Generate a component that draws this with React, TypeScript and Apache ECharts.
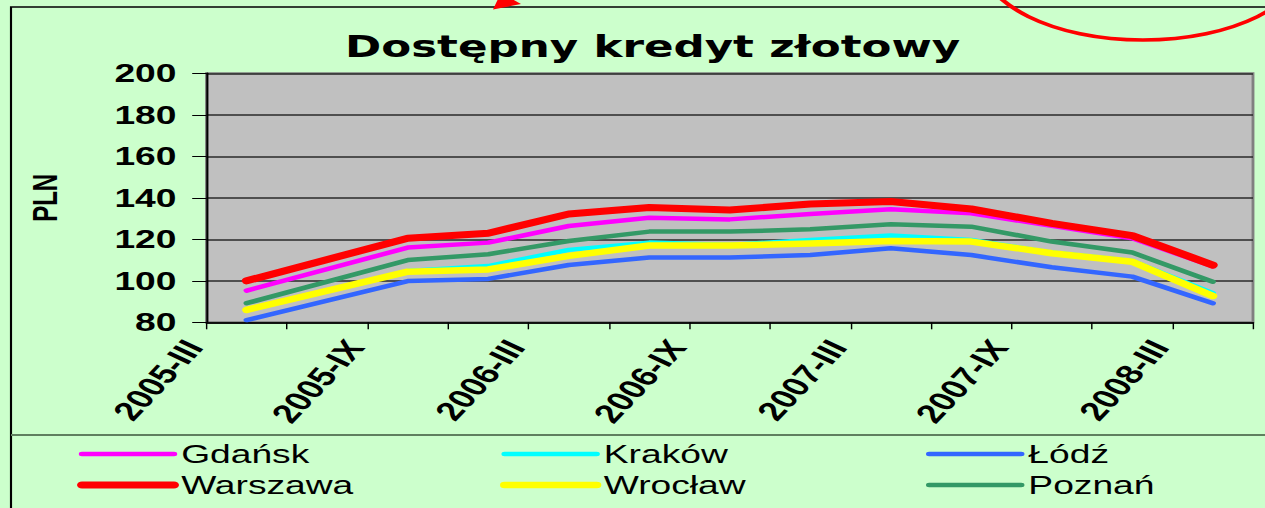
import React, { useEffect, useRef } from 'react';
import * as echarts from 'echarts';

// ---- data ----
const categories = [
  '2005-III', '2005-VI', '2005-IX', '2005-XII',
  '2006-III', '2006-VI', '2006-IX', '2006-XII',
  '2007-III', '2007-VI', '2007-IX', '2007-XII',
  '2008-III',
];
const tickLabels = [
  '2005-III', '', '2005-IX', '', '2006-III', '', '2006-IX', '',
  '2007-III', '', '2007-IX', '', '2008-III', '',
];
const seriesNames = ['Gdańsk', 'Kraków', 'Łódź', 'Warszawa', 'Wrocław', 'Poznań'];
const gdansk = [95.3, null, 116, 118.4, 126.4, 130.4, 129.6, 132.2, 134.5, 132.5, 126.5, 120.5, 107];
const krakow = [86, null, 104.7, 107.1, 114.9, 118.4, 117.3, 119.7, 121.8, 119.7, 113.6, 109.6, 94];
const lodz = [81.1, null, 99.9, 100.9, 107.6, 111.2, 111.2, 112.4, 115.7, 112.4, 106.5, 102, 89.2];
const warszawa = [100, null, 120.5, 122.9, 132.2, 135.3, 134.1, 137, 138.2, 134.6, 127.7, 121.8, 107.6];
const wroclaw = [86, null, 104.4, 105.5, 112, 117, 117, 118, 119.2, 118.9, 113.3, 109.2, 92.7];
const poznan = [89.2, null, 110, 112.8, 119.2, 123.7, 123.7, 124.8, 127.2, 126.1, 118.9, 113.6, 99.6];
const yMin = 80;
const yMax = 200;
const yInterval = 20;
const legendColumns = [
  ['Gdańsk', 'Warszawa'],
  ['Kraków', 'Wrocław'],
  ['Łódź', 'Poznań'],
];

// ---- styles ----
const S = 1.43; // horizontal stretch of the reference
const W = 1265;
const H = 508;
const WI = W / S;
const sx = (x: number) => x / S;

const seriesValues = [gdansk, krakow, lodz, warszawa, wroclaw, poznan];
const seriesColors = ['#ff00ff', '#00ffff', '#3366ff', '#ff0000', '#ffff00', '#339966'];
const seriesWidths = [4.5, 4.5, 4.5, 7, 6.5, 4.5];
const legendLefts = [77, 500, 926];

export default function App() {
  const ref = useRef<HTMLDivElement>(null);
  useEffect(() => {
    const chart = echarts.init(ref.current!, null, { renderer: 'svg', width: WI, height: H });
    const option: any = {
      animation: false,
      backgroundColor: '#ccffcc',
      textStyle: { fontFamily: 'Liberation Sans' },
      title: {
        text: 'Dostępny kredyt złotowy',
        left: sx(345),
        top: 31,
        padding: 0,
        textStyle: { fontFamily: 'DejaVu Sans', fontWeight: 'bold', fontSize: 30.5, color: '#000' },
      },
      grid: {
        left: sx(206.5),
        right: WI - sx(1253),
        top: 73.3,
        bottom: H - 322.3,
        containLabel: false,
        outerBoundsMode: 'none',
        show: true,
        backgroundColor: '#c0c0c0',
        borderColor: '#808080',
        borderWidth: 2,
      },
      xAxis: [
        {
          type: 'category',
          data: categories,
          boundaryGap: true,
          position: 'bottom',
          axisLine: { lineStyle: { color: '#000', width: 1.5 } },
          axisTick: { show: true, interval: 0, length: 7, lineStyle: { color: '#000', width: 1 } },
          axisLabel: { show: false },
          splitLine: { show: false },
        },
        {
          type: 'category',
          data: tickLabels,
          boundaryGap: false,
          position: 'bottom',
          axisLine: { show: false },
          axisTick: { show: false },
          splitLine: { show: false },
          axisLabel: {
            interval: 0,
            rotate: 56,
            margin: 7,
            padding: [0, 16, 0, 0],
            fontSize: 26.5,
            fontWeight: 'bold',
            color: '#000',
            fontFamily: 'Liberation Sans',
          },
        },
      ],
      yAxis: {
        type: 'value',
        min: yMin,
        max: yMax,
        interval: yInterval,
        name: 'PLN',
        nameLocation: 'middle',
        nameRotate: 90,
        nameGap: 101,
        nameTextStyle: { fontSize: 24, fontWeight: 'bold', color: '#000', fontFamily: 'Liberation Sans' },
        axisLine: { show: true, lineStyle: { color: '#000', width: 1.5 } },
        axisTick: { show: true, length: 10, lineStyle: { color: '#000', width: 1 } },
        axisLabel: { margin: 21, fontSize: 26, fontWeight: 'bold', color: '#000', fontFamily: 'Liberation Sans' },
        splitLine: { show: true, lineStyle: { color: '#2a2a2a', width: 1.5 } },
      },
      legend: legendColumns.map((d, i) => ({
        data: d,
        orient: 'vertical',
        left: sx(legendLefts[i]),
        top: 441,
        padding: 0,
        itemWidth: sx(92),
        itemHeight: 14,
        itemGap: 5,
        selectedMode: false,
        lineStyle: { width: 'inherit', cap: 'round' },
        itemStyle: { opacity: 0 },
        textStyle: { fontSize: 26, lineHeight: 26, color: '#000', fontFamily: 'Liberation Sans' },
      })),
      series: seriesNames.map((name, i) => ({
        name,
        type: 'line',
        data: seriesValues[i],
        symbol: 'none',
        connectNulls: true,
        color: seriesColors[i],
        itemStyle: { color: seriesColors[i] },
        lineStyle: { color: seriesColors[i], width: seriesWidths[i], cap: 'round', join: 'round' },
      })),
      graphic: [
        {
          type: 'rect',
          z: 100,
          shape: { x: sx(11), y: 7, width: WI + 20, height: H + 20 },
          style: { fill: 'none', stroke: '#000', lineWidth: 1.5 },
        },
        {
          type: 'line',
          z: 100,
          shape: { x1: sx(11), y1: 435, x2: WI + 5, y2: 435 },
          style: { stroke: '#5f7f5f', lineWidth: 2 },
        },
        {
          type: 'ellipse',
          z: 110,
          shape: { cx: sx(1143), cy: -40, rx: sx(162), ry: 80 },
          style: { fill: 'none', stroke: '#ff0000', lineWidth: 3.5 },
        },
        {
          type: 'polygon',
          z: 110,
          shape: { points: [[sx(493), 9.5], [sx(498), -1], [sx(512), -1], [sx(521), 4]] },
          style: { fill: '#ff0000' },
        },
      ],
    };
    chart.setOption(option);
    return () => chart.dispose();
  }, []);
  return (
    <div
      ref={ref}
      style={{
        position: 'fixed',
        left: 0,
        top: 0,
        width: WI,
        height: H,
        transform: `scaleX(${S})`,
        transformOrigin: '0 0',
      }}
    />
  );
}
